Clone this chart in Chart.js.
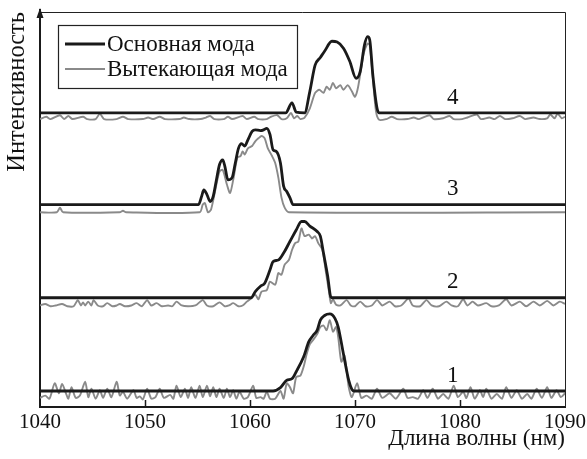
<!DOCTYPE html>
<html>
<head>
<meta charset="utf-8">
<script src="https://cdn.jsdelivr.net/npm/chart.js@4.4.0/dist/chart.umd.min.js"></script>
<style>
  html, body { margin: 0; padding: 0; background: #fff; }
</style>
</head>
<body>
<canvas id="chart" width="587" height="459"></canvas>
<script>
// wavelength range, nm
const xTicks = [1040, 1050, 1060, 1070, 1080, 1090];
const traceNames = ['1', '2', '3', '4'];
const offsets = [0, 1.21, 2.42, 3.61];
const seriesNames = ['Основная мода', 'Вытекающая мода'];

// main mode (black), [nm, intensity]
const main1 = [[1040,0],[1062.2,0],[1062.9,0.044],[1063.5,0.14],[1064.0,0.16],[1064.4,0.25],[1065.1,0.44],[1065.6,0.64],[1066.0,0.72],[1066.4,0.79],[1066.7,0.92],[1067.1,0.98],[1067.6,1.0],[1068.1,0.94],[1068.4,0.83],[1068.9,0.48],[1069.4,0.14],[1069.7,0.02],[1069.9,0],[1090,0]];
const main2 = [[1040,0],[1060.1,0],[1060.5,0.08],[1061.0,0.15],[1061.4,0.19],[1061.9,0.36],[1062.2,0.47],[1062.7,0.49],[1063.2,0.58],[1063.8,0.73],[1064.4,0.88],[1064.9,0.99],[1065.2,0.99],[1065.7,0.93],[1066.4,0.86],[1066.7,0.80],[1067.0,0.58],[1067.4,0.28],[1067.7,0.01],[1067.9,0],[1090,0]];
const main3 = [[1040,0],[1055.1,0],[1055.4,0.11],[1055.6,0.19],[1055.9,0.13],[1056.2,0.04],[1056.5,0.11],[1056.8,0.32],[1057.1,0.52],[1057.4,0.58],[1057.6,0.50],[1057.9,0.32],[1058.3,0.35],[1058.6,0.54],[1058.9,0.73],[1059.2,0.79],[1059.5,0.76],[1059.8,0.84],[1060.2,0.95],[1060.5,0.97],[1061.0,0.96],[1061.3,0.97],[1061.6,0.99],[1061.9,0.91],[1062.2,0.71],[1062.5,0.69],[1062.9,0.54],[1063.2,0.24],[1063.5,0.17],[1063.8,0.09],[1064.1,0],[1090,0]];
const main4 = [[1040,0],[1063.4,0],[1064.0,0.13],[1064.4,0.01],[1065.2,0],[1065.7,0.28],[1066.2,0.62],[1066.7,0.72],[1067.1,0.80],[1067.8,0.93],[1068.3,0.92],[1068.9,0.84],[1069.5,0.67],[1070.1,0.45],[1070.5,0.54],[1070.9,0.88],[1071.2,0.99],[1071.4,0.95],[1071.7,0.49],[1072.1,0.06],[1072.3,0],[1090,0]];

// leaky mode (gray), [nm, intensity]
const leak1 = [[1040,-0.09],[1040.5,-0.06],[1040.9,-0.10],[1041.4,0.10],[1041.8,-0.03],[1042.1,0.09],[1042.5,-0.04],[1042.7,-0.10],[1043.0,0.05],[1043.4,-0.09],[1043.8,-0.06],[1044.3,0.12],[1044.6,-0.08],[1044.9,0.03],[1045.3,-0.10],[1045.7,0.01],[1046.0,-0.09],[1046.4,0.03],[1046.8,-0.08],[1047.3,0.12],[1047.6,-0.06],[1047.9,-0.01],[1048.3,-0.10],[1048.9,0.01],[1049.2,-0.09],[1049.5,-0.07],[1049.8,-0.11],[1050.2,0.03],[1050.6,-0.10],[1051.0,-0.08],[1051.4,0.03],[1051.8,-0.09],[1052.4,-0.05],[1052.7,-0.10],[1053.0,0.07],[1053.4,-0.08],[1053.8,0.03],[1054.1,-0.09],[1054.4,0.05],[1054.8,-0.09],[1055.2,0.07],[1055.5,-0.08],[1055.9,0.07],[1056.2,-0.07],[1056.5,0.05],[1056.8,-0.08],[1057.1,0.03],[1057.5,-0.09],[1057.8,0.03],[1058.1,-0.08],[1058.4,0.01],[1058.7,-0.10],[1059.0,-0.01],[1059.4,-0.10],[1059.8,-0.08],[1060.3,0.07],[1060.6,-0.09],[1061.0,-0.08],[1061.3,-0.10],[1061.6,-0.01],[1061.9,-0.10],[1062.4,-0.10],[1062.9,0.0],[1063.2,-0.10],[1063.5,0.10],[1063.8,0.05],[1064.1,-0.03],[1064.4,0.18],[1064.8,0.20],[1065.1,0.31],[1065.4,0.48],[1065.7,0.61],[1066.0,0.66],[1066.4,0.74],[1066.7,0.83],[1067.0,0.85],[1067.3,0.79],[1067.6,0.92],[1067.9,0.77],[1068.2,0.83],[1068.4,0.70],[1068.7,0.38],[1069.0,0.46],[1069.4,0.05],[1069.7,-0.08],[1070.2,0.10],[1070.6,-0.09],[1071.1,-0.06],[1071.6,-0.10],[1072.1,0.03],[1072.6,-0.09],[1073.3,-0.03],[1073.9,-0.10],[1074.6,0.03],[1075.0,-0.09],[1075.5,-0.08],[1076.0,-0.10],[1076.5,0.01],[1076.9,-0.09],[1077.4,0.03],[1077.9,-0.10],[1078.4,-0.04],[1078.9,-0.10],[1079.4,0.07],[1079.8,-0.08],[1080.3,-0.01],[1080.6,-0.09],[1081.0,0.05],[1081.4,-0.10],[1081.9,0.01],[1082.2,-0.08],[1082.5,0.03],[1083.0,-0.10],[1083.5,-0.04],[1084.0,-0.10],[1084.4,0.05],[1084.9,-0.09],[1085.4,0.01],[1085.9,-0.10],[1086.4,-0.04],[1086.8,-0.10],[1087.3,0.03],[1087.8,-0.09],[1088.3,0.05],[1088.7,-0.09],[1089.2,0.01],[1089.6,-0.08],[1090,-0.03]];
const leak2 = [[1040,-0.10],[1040.5,-0.08],[1041.0,-0.11],[1041.5,-0.10],[1042.1,-0.08],[1042.6,-0.11],[1043.2,-0.11],[1043.6,-0.03],[1043.9,-0.10],[1044.1,-0.06],[1044.3,-0.10],[1044.6,-0.05],[1044.9,-0.10],[1045.1,-0.03],[1045.5,-0.10],[1046.0,-0.11],[1046.4,-0.07],[1046.9,-0.11],[1047.3,-0.10],[1047.6,-0.08],[1048.1,-0.11],[1048.7,-0.10],[1049.2,-0.07],[1049.7,-0.11],[1050.2,-0.03],[1050.6,-0.10],[1051.1,-0.07],[1051.6,-0.11],[1052.2,-0.10],[1052.6,-0.11],[1053.0,-0.05],[1053.5,-0.10],[1054.1,-0.11],[1054.8,-0.10],[1055.5,-0.03],[1055.9,-0.10],[1056.5,-0.11],[1057.1,-0.06],[1057.6,-0.11],[1058.0,-0.10],[1058.4,-0.07],[1058.9,-0.11],[1059.3,-0.10],[1059.7,-0.05],[1060.0,-0.02],[1060.5,0.04],[1060.8,-0.02],[1061.1,0.08],[1061.6,0.10],[1061.9,0.21],[1062.4,0.17],[1062.7,0.32],[1063.0,0.30],[1063.3,0.43],[1063.7,0.49],[1064.0,0.62],[1064.3,0.71],[1064.6,0.73],[1064.9,0.90],[1065.2,0.80],[1065.6,0.82],[1065.9,0.77],[1066.2,0.80],[1066.5,0.71],[1066.9,0.62],[1067.2,0.36],[1067.5,0.10],[1067.7,-0.07],[1067.9,-0.02],[1068.2,-0.09],[1068.6,-0.10],[1069.2,-0.03],[1069.6,-0.10],[1070.0,-0.11],[1070.5,-0.05],[1071.0,-0.11],[1071.6,-0.10],[1072.1,-0.03],[1072.6,-0.10],[1073.3,-0.05],[1073.8,-0.11],[1074.4,-0.10],[1075.1,-0.01],[1075.5,-0.10],[1076.2,-0.11],[1076.8,-0.03],[1077.3,-0.10],[1078.0,-0.11],[1078.7,-0.05],[1079.2,-0.10],[1079.8,-0.11],[1080.3,-0.02],[1080.7,-0.10],[1081.2,-0.05],[1081.7,-0.10],[1082.5,-0.07],[1083.0,-0.11],[1083.7,-0.10],[1084.4,-0.02],[1084.9,-0.10],[1085.7,-0.05],[1086.3,-0.11],[1087.0,-0.05],[1087.6,-0.10],[1088.3,-0.04],[1088.9,-0.10],[1089.5,-0.05],[1090,-0.08]];
const leak3 = [[1040,-0.10],[1041.6,-0.10],[1041.9,-0.04],[1042.2,-0.10],[1047.6,-0.10],[1047.9,-0.08],[1048.2,-0.10],[1055.2,-0.10],[1055.5,0.0],[1055.7,0.02],[1056.0,-0.10],[1056.3,-0.06],[1056.8,0.26],[1057.1,0.43],[1057.4,0.45],[1057.8,0.26],[1058.1,0.15],[1058.4,0.32],[1058.8,0.61],[1059.1,0.63],[1059.3,0.69],[1059.5,0.65],[1059.8,0.73],[1060.2,0.76],[1060.5,0.82],[1060.8,0.86],[1061.1,0.89],[1061.4,0.86],[1061.7,0.73],[1062.1,0.63],[1062.4,0.54],[1062.7,0.35],[1063.0,0.09],[1063.3,-0.04],[1063.7,-0.10],[1090,-0.10]];
const leak4 = [[1040,-0.08],[1040.6,-0.05],[1041.0,-0.08],[1041.9,-0.03],[1042.3,-0.08],[1042.7,-0.04],[1043.1,-0.08],[1044.1,-0.05],[1044.5,-0.08],[1045.3,-0.08],[1045.7,-0.01],[1046.1,-0.08],[1047.3,-0.08],[1047.9,-0.05],[1048.4,-0.08],[1049.8,-0.08],[1050.3,-0.06],[1050.8,-0.08],[1051.4,-0.05],[1051.9,-0.08],[1053.3,-0.08],[1053.7,-0.06],[1054.2,-0.08],[1055.3,-0.08],[1055.8,-0.06],[1056.2,-0.04],[1056.6,-0.08],[1057.5,-0.08],[1057.9,-0.05],[1058.3,-0.08],[1059.3,-0.04],[1059.7,-0.08],[1060.4,-0.05],[1060.8,-0.08],[1061.6,-0.08],[1062.0,-0.05],[1062.6,-0.03],[1063.0,-0.08],[1063.5,-0.07],[1063.9,0.0],[1064.2,-0.07],[1064.5,-0.04],[1064.8,-0.08],[1065.2,-0.06],[1065.7,0.06],[1066.2,0.26],[1066.6,0.30],[1067.0,0.26],[1067.3,0.34],[1067.6,0.30],[1067.9,0.39],[1068.2,0.32],[1068.6,0.36],[1068.9,0.30],[1069.3,0.36],[1069.7,0.28],[1070.0,0.21],[1070.3,0.34],[1070.8,0.75],[1071.2,0.90],[1071.4,0.88],[1071.7,0.45],[1072.0,0.02],[1072.3,-0.09],[1073.0,-0.08],[1073.5,-0.05],[1074.0,-0.08],[1075.0,-0.08],[1075.6,-0.06],[1076.1,-0.08],[1077.1,-0.03],[1077.5,-0.08],[1078.4,-0.07],[1079.0,-0.04],[1079.4,-0.08],[1080.2,-0.08],[1080.7,-0.06],[1081.6,-0.02],[1082.0,-0.08],[1082.8,-0.06],[1083.3,-0.08],[1083.8,-0.04],[1084.3,-0.08],[1085.0,-0.07],[1085.7,-0.04],[1086.2,-0.08],[1087.0,-0.06],[1087.6,-0.08],[1088.3,-0.07],[1088.6,-0.02],[1089.0,-0.07],[1089.3,-0.01],[1089.7,-0.07],[1090,-0.05]];

const mains = [main1, main2, main3, main4];
const leaks = [leak1, leak2, leak3, leak4];

const BLACK = '#1a1a1a';
const GRAY = '#8a8a8a';
const FONT = "'Liberation Serif', 'Times New Roman', serif";
const FSIZE = 23;

const shift = (arr, off) => arr.map(p => ({ x: p[0], y: p[1] + off }));

const datasets = [];
mains.forEach((m, i) => {
  datasets.push({
    label: seriesNames[0],
    data: shift(m, offsets[i]),
    borderColor: BLACK,
    borderWidth: 2.8,
    pointRadius: 0,
    cubicInterpolationMode: 'monotone',
    order: 0
  });
  datasets.push({
    label: seriesNames[1],
    data: shift(leaks[i], offsets[i]),
    borderColor: GRAY,
    borderWidth: 1.9,
    pointRadius: 0,
    tension: 0.25,
    order: 1
  });
});

// frame, inward ticks, arrow, legend box and trace numbers
const decor = {
  id: 'decor',
  afterDraw(chart) {
    const { ctx, chartArea: a, scales: { x, y } } = chart;
    ctx.save();
    ctx.strokeStyle = '#222';
    ctx.lineWidth = 1;
    ctx.beginPath();
    ctx.moveTo(a.left, a.top + 0.5);
    ctx.lineTo(a.right + 0.5, a.top + 0.5);
    ctx.lineTo(a.right + 0.5, a.bottom);
    ctx.stroke();

    ctx.strokeStyle = BLACK;
    ctx.lineWidth = 1.5;
    xTicks.slice(1, -1).forEach(v => {
      const px = Math.round(x.getPixelForValue(v)) + 0.5;
      ctx.beginPath();
      ctx.moveTo(px, a.bottom);
      ctx.lineTo(px, a.bottom - 7);
      ctx.stroke();
    });

    // y axis arrow
    ctx.lineWidth = 2;
    ctx.beginPath();
    ctx.moveTo(a.left, a.top);
    ctx.lineTo(a.left, a.top - 3);
    ctx.stroke();
    ctx.fillStyle = BLACK;
    ctx.beginPath();
    ctx.moveTo(a.left, a.top - 4);
    ctx.lineTo(a.left - 3.5, a.top + 6);
    ctx.lineTo(a.left + 3.5, a.top + 6);
    ctx.closePath();
    ctx.fill();

    // legend
    ctx.lineWidth = 1.2;
    ctx.strokeStyle = '#222';
    ctx.strokeRect(58.5, 25.5, 239, 63);
    ctx.font = FSIZE + 'px ' + FONT;
    ctx.textBaseline = 'middle';
    ctx.textAlign = 'left';
    ctx.fillStyle = '#111';
    [[BLACK, 2.8, 44], [GRAY, 1.9, 69]].forEach((s, i) => {
      ctx.strokeStyle = s[0];
      ctx.lineWidth = s[1];
      ctx.beginPath();
      ctx.moveTo(65, s[2]);
      ctx.lineTo(105, s[2]);
      ctx.stroke();
      ctx.fillText(seriesNames[i], 107, s[2] + 1);
    });

    // trace numbers
    ctx.textAlign = 'center';
    traceNames.forEach((t, i) => {
      ctx.fillText(t, x.getPixelForValue(1079.3), y.getPixelForValue(offsets[i] + 0.2));
    });
    ctx.restore();
  }
};

new Chart(document.getElementById('chart'), {
  type: 'line',
  data: { datasets },
  options: {
    responsive: false,
    animation: false,
    layout: { padding: { top: 12, right: 22, left: 0, bottom: 0 } },
    plugins: { legend: { display: false }, tooltip: { enabled: false } },
    scales: {
      x: {
        type: 'linear',
        min: 1040,
        max: 1090,
        afterFit: s => { s.height = 52; s.paddingLeft = 0; s.paddingRight = 0; },
        afterBuildTicks: s => { s.ticks = xTicks.map(v => ({ value: v })); },
        grid: { display: false, drawTicks: false },
        border: { display: true, color: BLACK, width: 2 },
        ticks: { color: '#111', padding: 3, font: { family: FONT, size: 21 }, callback: v => String(v) },
        title: {
          display: true,
          text: 'Длина волны (нм)',
          align: 'end',
          color: '#111',
          padding: { top: 0, bottom: 6 },
          font: { family: FONT, size: FSIZE }
        }
      },
      y: {
        min: -0.208,
        max: 4.92,
        afterFit: s => { s.width = 40; },
        grid: { display: false, drawTicks: false },
        border: { display: true, color: BLACK, width: 2 },
        ticks: { display: false },
        title: {
          display: true,
          text: 'Интенсивность',
          align: 'end',
          color: '#111',
          padding: { top: 3, bottom: 0 },
          font: { family: FONT, size: 24.5 }
        }
      }
    }
  },
  plugins: [decor]
});
</script>
</body>
</html>
